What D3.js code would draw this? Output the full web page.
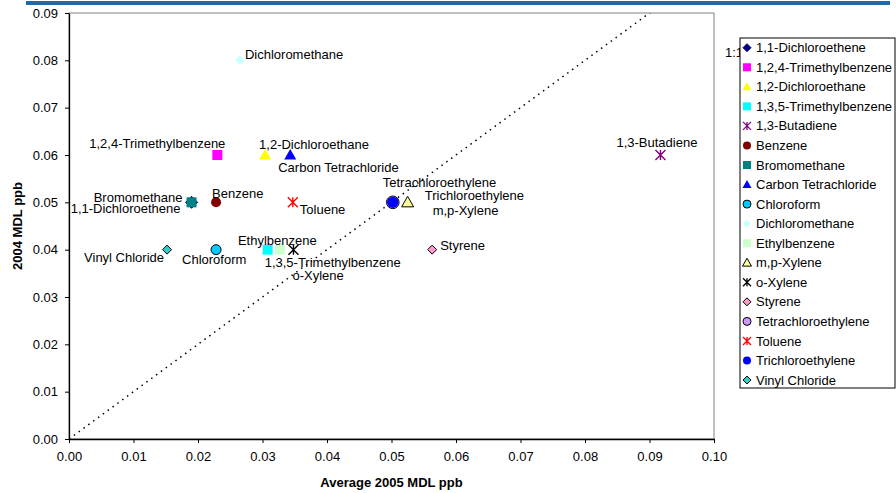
<!DOCTYPE html>
<html>
<head>
<meta charset="utf-8">
<script src="https://cdn.jsdelivr.net/npm/d3@7"></script>
<style>
body { margin: 0; background: #fff; }
svg text { font-family: "Liberation Sans", Arial, sans-serif; }
</style>
</head>
<body>
<div id="chart"></div>
<script>
// data
var compounds = ["1,1-Dichloroethene", "1,2,4-Trimethylbenzene", "1,2-Dichloroethane",
    "1,3,5-Trimethylbenzene", "1,3-Butadiene", "Benzene", "Bromomethane",
    "Carbon Tetrachloride", "Chloroform", "Dichloromethane", "Ethylbenzene",
    "m,p-Xylene", "o-Xylene", "Styrene", "Tetrachloroethylene", "Toluene",
    "Trichloroethylene", "Vinyl Chloride"];
var avg2005 = [0.019, 0.023, 0.0304, 0.0308, 0.0917, 0.0228, 0.019, 0.0343, 0.0228,
    0.0265, 0.0327, 0.0525, 0.0348, 0.0563, 0.0502, 0.0347, 0.0502, 0.0152];
var mdl2004 = [0.05, 0.06, 0.06, 0.04, 0.06, 0.05, 0.05, 0.06, 0.04,
    0.08, 0.04, 0.05, 0.04, 0.04, 0.05, 0.05, 0.05, 0.04];
var oneToOne = [0, 0.1];
var xTicks = [0, 0.01, 0.02, 0.03, 0.04, 0.05, 0.06, 0.07, 0.08, 0.09, 0.10];
var yTicks = [0, 0.01, 0.02, 0.03, 0.04, 0.05, 0.06, 0.07, 0.08, 0.09];

// marker styles, same order as compounds
var shapes = ["diamond", "square", "triangle", "square", "star", "circle", "square",
    "triangle", "circle", "diamond", "square", "triangle", "star", "diamond",
    "circle", "star", "circle", "diamond"];
var fills = ["#000080", "#FF00FF", "#FFFF00", "#00FFFF", "none", "#800000", "#008080",
    "#0000FF", "#00CCFF", "#CCFFFF", "#CCFFCC", "#FFFF99", "none", "#FF99CC",
    "#CC99FF", "none", "#0000FF", "#33CCCC"];
var strokes = ["#000080", "none", "none", "none", "#800080", "none", "none",
    "none", "#000", "none", "none", "#000", "#000", "#000",
    "#000", "#FF0000", "none", "#000"];
var sizes = [6, 5, 6, 5, 5, 5, 5, 6, 5, 5, 5, 6, 5, 4.5, 6.3, 5, 5.7, 4.5];

// label placement next to each marker: [dx, dy, anchor]
var labelPos = {
    "1,1-Dichloroethene": [-11, 6, "end"],
    "1,2,4-Trimethylbenzene": [8, -12, "end"],
    "1,2-Dichloroethane": [-6, -11, "start"],
    "1,3,5-Trimethylbenzene": [-3, 13, "start"],
    "1,3-Butadiene": [-44, -13, "start"],
    "Benzene": [-4, -9, "start"],
    "Bromomethane": [-9, -5, "end"],
    "Carbon Tetrachloride": [-12, 12, "start"],
    "Chloroform": [-34, 10, "start"],
    "Dichloromethane": [5, -6, "start"],
    "Ethylbenzene": [-42, -9, "start"],
    "m,p-Xylene": [25, 8, "start"],
    "o-Xylene": [-1, 26, "start"],
    "Styrene": [8, -4, "start"],
    "Tetrachloroethylene": [-10, -20, "start"],
    "Toluene": [7, 7, "start"],
    "Trichloroethylene": [32, -7, "start"],
    "Vinyl Chloride": [-3, 8, "end"]
};

function markerPath(shape, s) {
    if (shape == "diamond") return "M0," + (-s) + "L" + s + ",0L0," + s + "L" + (-s) + ",0Z";
    if (shape == "square") return "M" + (-s) + "," + (-s) + "h" + 2 * s + "v" + 2 * s + "h" + (-2 * s) + "Z";
    if (shape == "triangle") return "M0," + (-s) + "L" + s + "," + (s * 0.75) + "L" + (-s) + "," + (s * 0.75) + "Z";
    if (shape == "star") return "M" + (-s) + "," + (-s) + "L" + s + "," + s + "M" + s + "," + (-s) + "L" + (-s) + "," + s + "M0," + (-s) + "L0," + s;
    var p = d3.path();
    p.arc(0, 0, s, 0, 2 * Math.PI);
    return p.toString();
}

var W = 896, H = 493;
var margin = { left: 69, top: 13 },
    width = 645,
    height = 426;

var svg = d3.select("#chart").append("svg")
    .attr("width", W)
    .attr("height", H);

svg.append("rect").attr("width", W).attr("height", H).attr("fill", "#fff");

// blue bar at top
svg.append("rect")
    .attr("x", 26).attr("y", 1)
    .attr("width", 864).attr("height", 4)
    .attr("fill", "#1F69A8");

var g = svg.append("g").attr("transform", "translate(" + margin.left + "," + margin.top + ")");

var x = d3.scaleLinear().domain([0, 0.1]).range([0, width]);
var y = d3.scaleLinear().domain([0, 0.09]).range([height, 0]);

// plot area border
g.append("rect")
    .attr("width", width).attr("height", height)
    .attr("fill", "#fff")
    .attr("stroke", "#808080").attr("stroke-width", 1);

g.append("clipPath").attr("id", "clip")
    .append("rect").attr("width", width).attr("height", height);

// 1:1 line
g.append("line")
    .attr("clip-path", "url(#clip)")
    .attr("x1", x(oneToOne[0])).attr("y1", y(oneToOne[0]))
    .attr("x2", x(oneToOne[1])).attr("y2", y(oneToOne[1]))
    .attr("stroke", "#000")
    .attr("stroke-width", 1.5)
    .attr("stroke-dasharray", "1.5,4.5");

var xAxis = g.append("g")
    .attr("transform", "translate(0," + height + ")")
    .call(d3.axisBottom(x).tickValues(xTicks).tickFormat(d3.format(".2f"))
        .tickSizeInner(4).tickSizeOuter(0).tickPadding(9));
var yAxis = g.append("g")
    .call(d3.axisLeft(y).tickValues(yTicks).tickFormat(d3.format(".2f"))
        .tickSizeInner(4).tickSizeOuter(0).tickPadding(7));

[xAxis, yAxis].forEach(function (a) {
    a.selectAll("text").attr("font-size", 13).attr("fill", "#000")
        .attr("font-family", "'Liberation Sans', Arial, sans-serif");
    a.selectAll("line").attr("stroke", "#000");
    a.select(".domain").attr("stroke", "#000").attr("stroke-width", 1.3);
});

// points
compounds.forEach(function (c, i) {
    g.append("path")
        .attr("transform", "translate(" + x(avg2005[i]) + "," + y(mdl2004[i]) + ")")
        .attr("d", markerPath(shapes[i], sizes[i]))
        .attr("fill", fills[i])
        .attr("stroke", strokes[i])
        .attr("stroke-width", shapes[i] == "star" ? 1.4 : 1);
});

// point labels
compounds.forEach(function (c, i) {
    var lp = labelPos[c];
    g.append("text")
        .attr("x", x(avg2005[i]) + lp[0])
        .attr("y", y(mdl2004[i]) + lp[1])
        .attr("dy", "0.35em")
        .attr("text-anchor", lp[2])
        .attr("font-size", 13)
        .attr("fill", "#000")
        .text(c);
});

// axis titles
svg.append("text")
    .attr("x", margin.left + width / 2).attr("y", 487)
    .attr("text-anchor", "middle")
    .attr("font-size", 13).attr("font-weight", "bold")
    .text("Average 2005 MDL ppb");

svg.append("text")
    .attr("transform", "translate(22," + (margin.top + height / 2) + ") rotate(-90)")
    .attr("text-anchor", "middle")
    .attr("font-size", 13).attr("font-weight", "bold")
    .text("2004 MDL ppb");

// 1:1 label, partly under the legend
svg.append("text")
    .attr("x", 725).attr("y", 52)
    .attr("dy", "0.35em")
    .attr("font-size", 13)
    .text("1:1");

// legend
var legend = svg.append("g").attr("transform", "translate(740,38)");
legend.append("rect")
    .attr("width", 155).attr("height", 350)
    .attr("fill", "#fff").attr("stroke", "#000").attr("stroke-width", 1);

compounds.forEach(function (c, i) {
    var ly = 9.7 + i * 19.55;
    legend.append("path")
        .attr("transform", "translate(7," + ly + ")")
        .attr("d", markerPath(shapes[i], shapes[i] == "triangle" ? 4.5 : 4))
        .attr("fill", fills[i])
        .attr("stroke", strokes[i])
        .attr("stroke-width", shapes[i] == "star" ? 1.3 : 1);
    legend.append("text")
        .attr("x", 16).attr("y", ly)
        .attr("dy", "0.35em")
        .attr("font-size", 13)
        .text(c);
});
</script>
</body>
</html>
